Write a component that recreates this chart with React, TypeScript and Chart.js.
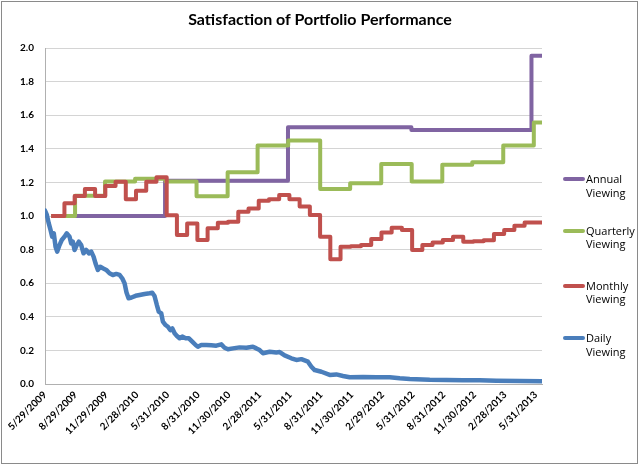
import React, { useEffect, useRef } from "react";
import { Chart, registerables } from "chart.js";

Chart.register(...registerables);

const chartTitle = "Satisfaction of Portfolio Performance";

const tickLabels = [
  "5/29/2009", "8/29/2009", "11/29/2009", "2/28/2010", "5/31/2010", "8/31/2010",
  "11/30/2010", "2/28/2011", "5/31/2011", "8/31/2011", "11/30/2011", "2/29/2012",
  "5/31/2012", "8/31/2012", "11/30/2012", "2/28/2013", "5/31/2013",
];

// x positions are months elapsed since 5/29/2009
const annualMonths = [0.6, 11.74, 23.76, 35.83, 47.57, 48.6];
const annualValues = [1.0, 1.21, 1.528, 1.512, 1.954, 1.954];

const quarterlyMonths = [0.6, 2.94, 5.87, 8.81, 11.79, 14.82, 17.86, 20.79, 23.78, 26.91, 29.84, 32.88, 35.86, 38.85, 41.78, 44.81, 47.8, 48.6];
const quarterlyValues = [1.0, 1.12, 1.205, 1.222, 1.205, 1.117, 1.26, 1.42, 1.45, 1.16, 1.195, 1.31, 1.205, 1.305, 1.32, 1.42, 1.556, 1.556];

const monthlyMonths = [
  0.6, 1.9, 2.9, 3.9, 4.9, 5.9, 6.9, 7.9, 8.9, 9.9, 10.9, 11.9, 12.9, 13.9, 14.9, 15.9, 16.9,
  17.9, 18.9, 19.9, 20.9, 21.9, 22.9, 23.9, 24.9, 25.9, 26.9, 27.9, 28.9, 29.9, 30.9, 31.9,
  32.9, 33.9, 34.9, 35.9, 36.9, 37.9, 38.9, 39.9, 40.9, 41.9, 42.9, 43.9, 44.9, 45.9, 46.9,
  47.9, 48.6,
];
const monthlyValues = [
  1.0, 1.076, 1.119, 1.16, 1.119, 1.179, 1.204, 1.099, 1.151, 1.204, 1.23, 1.005, 0.887,
  0.956, 0.857, 0.927, 0.96, 0.966, 1.026, 1.045, 1.091, 1.099, 1.125, 1.099, 1.056, 1.006,
  0.877, 0.742, 0.817, 0.82, 0.827, 0.863, 0.902, 0.93, 0.917, 0.798, 0.827, 0.843, 0.857,
  0.877, 0.847, 0.85, 0.855, 0.893, 0.917, 0.942, 0.962, 0.962, 0.962,
];

const dailyMonths = [
  0, 0.18, 0.37, 0.54, 0.7, 0.86, 1.03, 1.19, 1.42, 1.64, 1.91, 2.13, 2.4, 2.56, 2.72, 2.89,
  3.11, 3.31, 3.54, 3.77, 4.03, 4.29, 4.52, 4.75, 4.94, 5.17, 5.4, 5.66, 5.99, 6.31, 6.63,
  6.97, 7.29, 7.55, 7.78, 7.97, 8.17, 8.46, 8.86, 9.25, 9.74, 10.23, 10.49, 10.71, 10.94,
  11.13, 11.37, 11.53, 11.79, 12.02, 12.25, 12.45, 12.67, 12.9, 13.16, 13.42, 13.75, 14.07,
  14.4, 14.73, 14.95, 15.28, 15.77, 16.26, 16.75, 17.24, 17.56, 17.89, 18.38, 19.03, 19.69,
  20.33, 20.67, 20.99, 21.31, 21.97, 22.62, 22.95, 23.43, 24.09, 24.58, 25.07, 25.71, 26.05,
  26.37, 27.03, 27.84, 28.49, 29.14, 29.79, 31.1, 32.41, 33.71, 34.69, 35.67, 37.62, 39.26,
  40.88, 42.51, 44.15, 46.43, 48.55,
];
const dailyValues = [
  1.032, 1.006, 0.956, 0.917, 0.877, 0.897, 0.817, 0.788, 0.827, 0.857, 0.877, 0.897, 0.877,
  0.837, 0.847, 0.798, 0.827, 0.847, 0.827, 0.778, 0.798, 0.778, 0.788, 0.758, 0.718, 0.679,
  0.698, 0.689, 0.679, 0.659, 0.649, 0.655, 0.649, 0.629, 0.6, 0.545, 0.51, 0.515, 0.525,
  0.53, 0.536, 0.54, 0.543, 0.524, 0.47, 0.43, 0.42, 0.371, 0.351, 0.341, 0.321, 0.331,
  0.302, 0.286, 0.272, 0.282, 0.272, 0.272, 0.252, 0.232, 0.222, 0.232, 0.232, 0.23, 0.228,
  0.236, 0.216, 0.207, 0.212, 0.218, 0.216, 0.222, 0.212, 0.202, 0.183, 0.192, 0.188, 0.19,
  0.17, 0.153, 0.143, 0.148, 0.133, 0.103, 0.083, 0.073, 0.054, 0.057, 0.048, 0.04, 0.041,
  0.04, 0.04, 0.034, 0.03, 0.025, 0.024, 0.022, 0.022, 0.02, 0.018, 0.016,
];

const seriesNames = ["Annual Viewing", "Quarterly Viewing", "Monthly Viewing", "Daily Viewing"];
const seriesColors = ["#8064a2", "#9bbb59", "#c0504d", "#4a7ebb"];

const FONT = "Lato, 'Open Sans', sans-serif";

function pts(xs: number[], ys: number[]) {
  return xs.map((x, i) => ({ x, y: ys[i] }));
}

export default function App() {
  const ref = useRef<HTMLCanvasElement>(null);

  useEffect(() => {
    if (!ref.current) return;
    const chart = new Chart(ref.current, {
      type: "line",
      data: {
        datasets: [
          {
            label: seriesNames[3],
            data: pts(dailyMonths, dailyValues),
            borderColor: seriesColors[3],
            borderWidth: 4.5,
            pointRadius: 0,
            tension: 0,
            borderJoinStyle: "round",
            borderCapStyle: "round",
          },
          {
            label: seriesNames[2],
            data: pts(monthlyMonths, monthlyValues),
            borderColor: seriesColors[2],
            borderWidth: 4,
            pointRadius: 0,
            stepped: "before",
            borderJoinStyle: "round",
          },
          {
            label: seriesNames[1],
            data: pts(quarterlyMonths, quarterlyValues),
            borderColor: seriesColors[1],
            borderWidth: 4,
            pointRadius: 0,
            stepped: "before",
            borderJoinStyle: "round",
          },
          {
            label: seriesNames[0],
            data: pts(annualMonths, annualValues),
            borderColor: seriesColors[0],
            borderWidth: 4,
            pointRadius: 0,
            stepped: "before",
            borderJoinStyle: "round",
          },
        ],
      } as any,
      options: {
        animation: false,
        responsive: false,
        devicePixelRatio: 1,
        layout: { padding: { left: 0, top: 48, right: 98, bottom: 0 } },
        plugins: {
          legend: { display: false },
          title: { display: false },
          tooltip: { enabled: false },
        },
        scales: {
          x: {
            type: "linear",
            min: 0,
            max: 48.6,
            afterBuildTicks: (s: any) => {
              s.ticks = tickLabels.map((_, i) => ({ value: i * 3 }));
            },
            afterFit: (s: any) => {
              s.height = 81;
            },
            grid: { display: false, drawTicks: false },
            border: { display: true, color: "#b0b0b0", width: 1 },
            ticks: {
              autoSkip: false,
              minRotation: 45,
              maxRotation: 45,
              padding: 5,
              color: "#000",
              font: { family: FONT, size: 10, weight: "bold" },
              callback: (v: any) => tickLabels[Math.round(Number(v) / 3)] ?? "",
            },
          },
          y: {
            min: 0,
            max: 2,
            afterFit: (s: any) => {
              s.width = 45;
            },
            grid: { color: "#d4d4d4", drawTicks: false },
            border: { display: true, color: "#b0b0b0", width: 1 },
            ticks: {
              stepSize: 0.2,
              padding: 11,
              color: "#000",
              font: { family: FONT, size: 10, weight: "bold" },
              callback: (v: any) => Number(v).toFixed(1),
            },
          },
        },
      } as any,
    });
    return () => chart.destroy();
  }, []);

  const legendY = [179.3, 231, 286, 338.3];

  return (
    <div style={{ position: "absolute", left: 0, top: 0, width: 640, height: 465, background: "#fff", overflow: "hidden" }}>
      <canvas ref={ref} width={640} height={465} style={{ position: "absolute", left: 0, top: 0, width: 640, height: 465 }} />
      <div
        style={{
          position: "absolute", left: 0, top: 9, width: 640, textAlign: "center",
          fontFamily: FONT, fontWeight: "bold", fontSize: 16, color: "#000", lineHeight: "20px",
        }}
      >
        {chartTitle}
      </div>
      {seriesNames.map((name, i) => {
        const [a, b] = name.split(" ");
        return (
          <React.Fragment key={name}>
            <div
              style={{
                position: "absolute", left: 563, top: legendY[i] - 2, width: 22, height: 4,
                borderRadius: 2, background: seriesColors[i],
              }}
            />
            <div
              style={{
                position: "absolute", left: 586, top: legendY[i] - 7, fontFamily: "'Open Sans', Lato, sans-serif",
                fontSize: 11, lineHeight: "13.4px", color: "#000",
              }}
            >
              {a}
              <br />
              {b}
            </div>
          </React.Fragment>
        );
      })}
      <div
        style={{
          position: "absolute", left: 1, top: 1, width: 637, height: 463, boxSizing: "border-box",
          border: "1px solid #8a8a8a", pointerEvents: "none",
        }}
      />
    </div>
  );
}
